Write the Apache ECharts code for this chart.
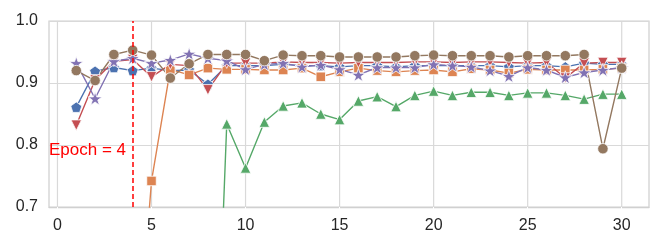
<!DOCTYPE html>
<html>
<head>
<meta charset="utf-8">
<script src="https://cdn.jsdelivr.net/npm/echarts@6/dist/echarts.min.js"></script>
<style>html,body{margin:0;padding:0;background:#fff}#c{width:664px;height:249px}</style>
</head>
<body>
<div id="c"></div>
<script>
const epochs = [1,2,3,4,5,6,7,8,9,10,11,12,13,14,15,16,17,18,19,20,21,22,23,24,25,26,27,28,29,30];
const xTicks = [0,5,10,15,20,25,30];
const yTicks = [0.7,0.8,0.9,1.0];
const markedEpoch = 4;
const markedLabel = 'Epoch = 4';

const blue   = [0.861,0.919,0.925,0.920,0.924,0.920,0.921,0.898,0.928,0.928,0.928,0.930,0.928,0.928,0.926,0.928,0.928,0.926,0.928,0.928,0.928,0.928,0.928,0.926,0.928,0.928,0.926,0.932,0.930,0.930];
const orange = [0.30,0.32,0.33,0.35,0.742,0.922,0.913,0.924,0.922,0.922,0.921,0.921,0.924,0.910,0.918,0.924,0.920,0.918,0.920,0.921,0.918,0.923,0.921,0.916,0.922,0.921,0.921,0.921,0.922,0.924];
const green  = [0.02,0.03,0.03,0.04,0.04,0.05,0.05,0.05,0.834,0.763,0.837,0.863,0.868,0.850,0.841,0.871,0.878,0.862,0.880,0.887,0.880,0.885,0.885,0.880,0.884,0.884,0.880,0.874,0.882,0.882];
const red    = [0.832,0.905,0.935,0.938,0.910,0.930,0.928,0.889,0.932,0.932,0.932,0.934,0.933,0.933,0.932,0.933,0.933,0.933,0.934,0.934,0.933,0.934,0.934,0.933,0.932,0.933,0.908,0.932,0.933,0.933];
const purple = [0.932,0.875,0.935,0.940,0.932,0.937,0.947,0.940,0.936,0.922,0.930,0.932,0.926,0.929,0.922,0.913,0.925,0.925,0.925,0.930,0.928,0.926,0.920,0.911,0.925,0.921,0.909,0.917,0.921,0.925];
const brown  = [0.920,0.904,0.946,0.953,0.945,0.908,0.931,0.946,0.946,0.946,0.936,0.945,0.944,0.944,0.942,0.942,0.942,0.942,0.944,0.945,0.944,0.944,0.944,0.942,0.944,0.944,0.944,0.946,0.794,0.924];

const PENT = 'path://M0,-1 L0.951,-0.309 L0.588,0.809 L-0.588,0.809 L-0.951,-0.309 Z';
const STAR = 'path://M0,-1 L0.2245,-0.309 L0.951,-0.309 L0.363,0.118 L0.588,0.809 L0,0.382 L-0.588,0.809 L-0.363,0.118 L-0.951,-0.309 L-0.2245,-0.309 Z';
const FONT = 'Liberation Sans, Arial, sans-serif';

function mk(name, vals, color, symbol, size, extra) {
  return Object.assign({
    name: name,
    type: 'line',
    z: 3,
    data: epochs.map((e, i) => [e, vals[i]]),
    symbol: symbol,
    symbolSize: size,
    symbolKeepAspect: true,
    showAllSymbol: true,
    clip: true,
    animation: false,
    lineStyle: { color: color, width: 1.4 },
    itemStyle: { color: color, borderColor: '#ffffff', borderWidth: 0.8, opacity: 1 },
    emphasis: { disabled: true }
  }, extra || {});
}

const yMin = yTicks[0], yMax = yTicks[yTicks.length - 1];
const gridSeries = xTicks.map(t => ({
  name: 'vgrid' + t,
  type: 'line',
  z: 1,
  silent: true,
  animation: false,
  symbol: 'none',
  data: [[t, yMin], [t, yMax]],
  lineStyle: { color: '#d9d9d9', width: 1.2 },
  emphasis: { disabled: true }
}));

const chart = echarts.init(document.getElementById('c'), null, { renderer: 'canvas' });
const series = gridSeries.concat([
  mk('blue', blue, '#4C72B0', PENT, 11),
  mk('orange', orange, '#DD8452', 'rect', 9.5),
  mk('green', green, '#55A868', 'triangle', 10.5),
  mk('red', red, '#C44E52', 'triangle', 10.5, { symbolRotate: 180 }),
  mk('purple', purple, '#8172B3', STAR, 14),
  mk('brown', brown, '#937860', 'circle', 10.5, {
    markLine: {
      silent: true, symbol: 'none', animation: false,
      label: { show: false },
      emphasis: { disabled: true },
      lineStyle: { color: '#ff0000', type: [5, 3], width: 1.5 },
      data: [{ xAxis: markedEpoch }],
      z: 10
    }
  })
]);

chart.setOption({
  animation: false,
  grid: { left: 49, right: 15, top: 21, bottom: 42, show: true, borderColor: '#d0d0d0', borderWidth: 1.25 },
  xAxis: {
    type: 'value', min: -0.45, max: 31.45,
    axisLine: { show: true, lineStyle: { color: '#d0d0d0', width: 1.25 } },
    axisTick: { customValues: xTicks, length: 4, lineStyle: { color: '#ffffff' } },
    axisLabel: { customValues: xTicks, color: '#262626', fontSize: 16, fontFamily: FONT, margin: 11 },
    splitLine: { show: false }
  },
  yAxis: {
    type: 'value', min: 0.7, max: 1.0, interval: 0.1,
    axisLine: { show: false },
    axisTick: { show: false },
    axisLabel: { color: '#262626', fontSize: 16, fontFamily: FONT, margin: 11, formatter: v => v.toFixed(1) },
    splitLine: { show: true, lineStyle: { color: '#d9d9d9', width: 1.2 } }
  },
  graphic: [{
    type: 'text', left: 49, top: 142, z: 100,
    style: { text: markedLabel, fill: '#ff0000', fontSize: 17, fontFamily: FONT }
  }],
  series: series
});
</script>
</body>
</html>
